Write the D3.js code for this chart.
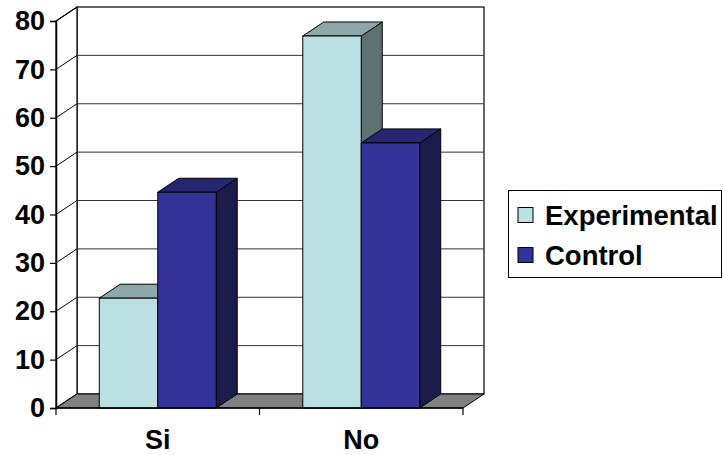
<!DOCTYPE html>
<html><head><meta charset="utf-8">
<script src="https://cdn.jsdelivr.net/npm/d3@7"></script>
<style>body{margin:0;background:#fff}svg{display:block}</style>
</head><body>
<svg id="c" width="723" height="455"></svg>
<script>
const categories = ["Si", "No"];
const seriesNames = ["Experimental", "Control"];
const experimental = [22.7, 76.9];
const control = [44.6, 54.8];
const yTicks = [0, 10, 20, 30, 40, 50, 60, 70, 80];

const colors = {
  Experimental: {front: "#BBE0E3", top: "#8EA8A9", side: "#5E7273"},
  Control: {front: "#333399", top: "#262673", side: "#1B1B4C"}
};
const seriesVals = {Experimental: experimental, Control: control};

const svg = d3.select("#c");
const x0 = 56, x1 = 463, dx = 21, dy = -14;
const y = d3.scaleLinear().domain([0, 80]).range([408, 21]);
const xc = d3.scaleBand().domain(categories).range([x0, x1]);
const xs = d3.scaleBand().domain(seriesNames).range([0, xc.bandwidth()]).paddingOuter(0.74).paddingInner(0);
const font = "Liberation Sans, Arial, sans-serif";

// back wall
svg.append("rect").attr("x", x0 + dx).attr("y", y(80) + dy)
  .attr("width", x1 - x0).attr("height", y(0) - y(80))
  .attr("fill", "#fff").attr("stroke", "#000").attr("stroke-width", 1.2);
// left wall
svg.append("path").attr("d", `M${x0},${y(0)}L${x0},${y(80)}L${x0+dx},${y(80)+dy}L${x0+dx},${y(0)+dy}Z`)
  .attr("fill", "#fff").attr("stroke", "#000").attr("stroke-width", 1.2);
// gridlines
yTicks.filter(t => t > 0 && t < 80).forEach(t => {
  svg.append("line").attr("x1", x0 + dx).attr("x2", x1 + dx).attr("y1", y(t) + dy).attr("y2", y(t) + dy)
    .attr("stroke", "#333").attr("stroke-width", 1);
});
yTicks.filter(t => t > 0).forEach(t => {
  svg.append("line").attr("x1", x0).attr("x2", x0 + dx).attr("y1", y(t)).attr("y2", y(t) + dy)
    .attr("stroke", "#000").attr("stroke-width", 1);
});
// floor
svg.append("path").attr("d", `M${x0},${y(0)}L${x1},${y(0)}L${x1+dx},${y(0)+dy}L${x0+dx},${y(0)+dy}Z`)
  .attr("fill", "#808080").attr("stroke", "#000").attr("stroke-width", 1);

// bars
categories.forEach((c, i) => {
  seriesNames.forEach(s => {
    const v = seriesVals[s][i];
    const bx = xc(c) + xs(s), bw = xs.bandwidth();
    const top = y(v), bot = y(0);
    const col = colors[s];
    const g = svg.append("g").attr("stroke", "#000").attr("stroke-width", 1);
    g.append("path").attr("d", `M${bx+bw},${bot}L${bx+bw},${top}L${bx+bw+dx},${top+dy}L${bx+bw+dx},${bot+dy}Z`).attr("fill", col.side);
    g.append("path").attr("d", `M${bx},${top}L${bx+bw},${top}L${bx+bw+dx},${top+dy}L${bx+dx},${top+dy}Z`).attr("fill", col.top);
    g.append("rect").attr("x", bx).attr("y", top).attr("width", bw).attr("height", bot - top).attr("fill", col.front);
  });
});

// y axis
const yAxis = d3.axisLeft(y).tickValues(yTicks).tickSize(6).tickPadding(5);
const ga = svg.append("g").attr("transform", `translate(${x0},0)`).call(yAxis);
ga.select(".domain").attr("stroke", "#000").attr("stroke-width", 1.5);
ga.selectAll(".tick line").attr("stroke", "#000").attr("stroke-width", 1.2);
ga.selectAll(".tick text").attr("font-family", font).attr("font-weight", "bold").attr("font-size", 27).attr("fill", "#000");

// x axis
svg.append("line").attr("x1", x0).attr("x2", x1).attr("y1", y(0)).attr("y2", y(0)).attr("stroke", "#000").attr("stroke-width", 1.5);
[x0, ...categories.slice(1).map(c => xc(c)), x1].forEach(px => {
  svg.append("line").attr("x1", px).attr("x2", px).attr("y1", y(0)).attr("y2", y(0) + 7).attr("stroke", "#000").attr("stroke-width", 1.2);
});
categories.forEach(c => {
  svg.append("text").attr("x", xc(c) + xc.bandwidth() / 2).attr("y", 449).attr("text-anchor", "middle")
    .attr("font-family", font).attr("font-weight", "bold").attr("font-size", 27).text(c);
});

// legend
svg.append("rect").attr("x", 508.5).attr("y", 190.5).attr("width", 213).attr("height", 87)
  .attr("fill", "#fff").attr("stroke", "#000").attr("stroke-width", 1);
seriesNames.forEach((s, i) => {
  const ly = 215 + i * 40;
  svg.append("rect").attr("x", 518).attr("y", ly - 7.5).attr("width", 15).attr("height", 15)
    .attr("fill", colors[s].front).attr("stroke", "#000").attr("stroke-width", 1);
  svg.append("text").attr("x", 545).attr("y", ly + 10).attr("font-family", font).attr("font-weight", "bold")
    .attr("font-size", 27.5).text(s);
});
</script>
</body></html>
